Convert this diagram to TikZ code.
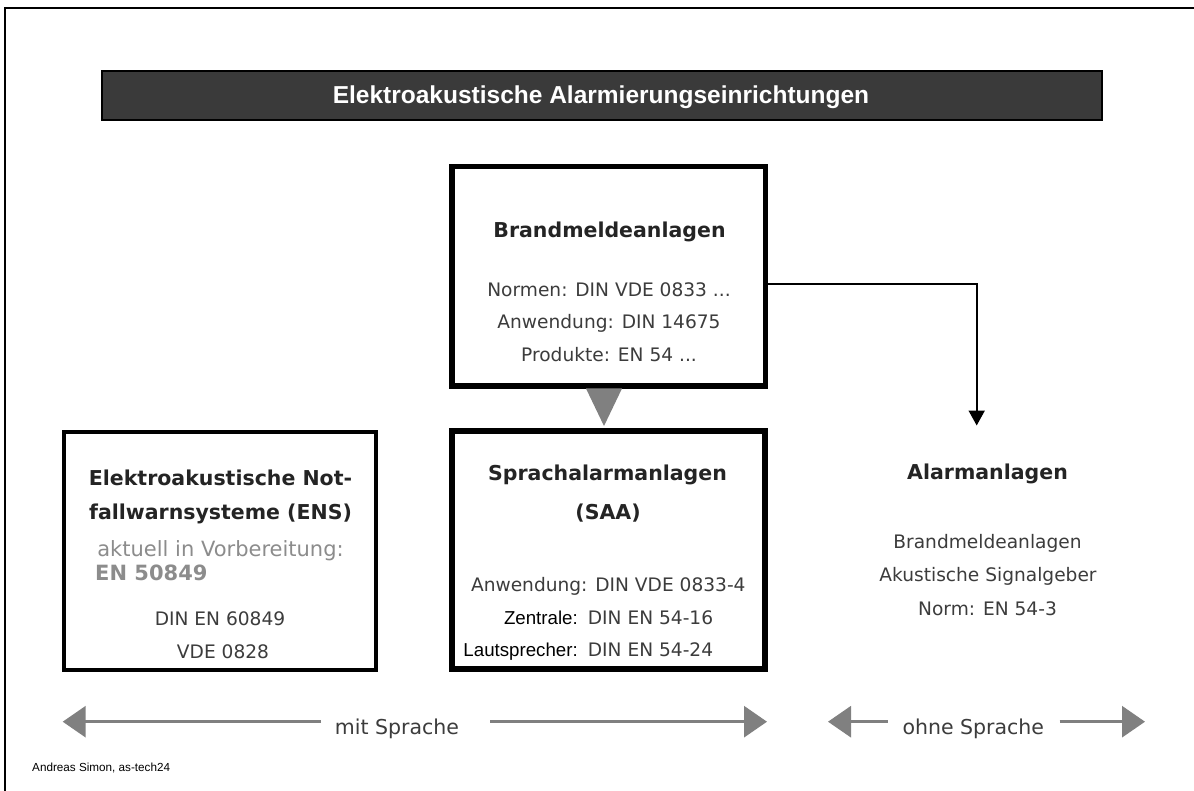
\documentclass[tikz,border=0pt]{standalone}
\usepackage{fontspec}
\setmainfont{DejaVu Sans}
\newfontfamily\arialf{Liberation Sans}
\usetikzlibrary{arrows.meta}
\definecolor{barc}{HTML}{3A3A3A}
\definecolor{titlec}{HTML}{242424}
\definecolor{txtc}{HTML}{3C3C3C}
\definecolor{greyc}{HTML}{8C8C8C}
\definecolor{arrc}{HTML}{808080}
\tikzset{
  bigbox/.style={draw=black, line width=5.5pt, fill=white, inner sep=0pt},
  thinbox/.style={draw=black, line width=4pt, fill=white, inner sep=0pt},
  ttl/.style={font=\fontsize{20.5}{24}\selectfont\bfseries, text=titlec, anchor=base, inner sep=0pt},
  txt/.style={font=\fontsize{18.6}{22}\selectfont, text=txtc, anchor=base, inner sep=0pt},
  atxt/.style={font=\arialf\fontsize{18.7}{22}\selectfont, text=black, inner sep=0pt},
  gtxt/.style={font=\fontsize{21}{25}\selectfont, text=greyc, inner sep=0pt},
  side/.style={font=\fontsize{20.5}{24}\selectfont, text=txtc, anchor=base, inner sep=0pt},
  grayarr/.style={draw=arrc, line width=3pt, -{Triangle[length=23pt,width=31pt]}},
  blackarr/.style={draw=black, line width=2pt, -{Triangle[length=15pt,width=16pt]}},
}
\begin{document}
\begin{tikzpicture}[x=1pt,y=-1pt]
\useasboundingbox (0,0) rectangle (1194,791);
\fill[white] (0,0) rectangle (1194,791);
% frame
\draw[line width=2.5pt] (5,791) -- (5,8) -- (1194,8);
% title bar
\node[draw=black, line width=2pt, fill=barc, minimum width=1000pt, minimum height=49pt, inner sep=0pt] (bar) at (601.8,95.5) {};
\node[font=\arialf\bfseries\fontsize{24.5}{28}\selectfont, text=white, anchor=base, inner sep=0pt] (bartxt) at (601,103.5) {Elektroakustische Alarmierungseinrichtungen};
% Brandmeldeanlagen
\node[bigbox, minimum width=313.5pt, minimum height=219.5pt] (bma) at (608.75,276.25) {};
\node[ttl] (bmat) at (609.5,237.3) {Brandmeldeanlagen};
\node[txt] (bma1) at (609,296.7) {Normen: DIN VDE 0833 ...};
\node[txt] (bma2) at (609,328.6) {Anwendung: DIN 14675};
\node[txt] (bma3) at (609,361.7) {Produkte: EN 54 ...};
% gray triangle
\fill[arrc] (586,388.5) -- (622,388.5) -- (604,426) -- cycle;
% SAA
\node[bigbox, minimum width=313pt, minimum height=238pt] (saa) at (608.5,550) {};
\node[ttl] (saat1) at (607.5,480) {Sprachalarmanlagen};
\node[ttl] (saat2) at (608,519) {(SAA)};
\node[txt] (saa1) at (608.3,591.7) {Anwendung: DIN VDE 0833-4};
\node[atxt, anchor=base east] (saa2l) at (578,624) {Zentrale:};
\node[txt, anchor=base west] (saa2r) at (587.7,624) {DIN EN 54-16};
\node[atxt, anchor=base east] (saa3l) at (578,656.7) {Lautsprecher:};
\node[txt, anchor=base west] (saa3r) at (587.7,656.7) {DIN EN 54-24};
% ENS
\node[thinbox, minimum width=311.5pt, minimum height=237.5pt] (ens) at (219.75,550.75) {};
\node[ttl] (enst1) at (220.5,485) {Elektroakustische Not-};
\node[ttl] (enst2) at (220.5,519.3) {fallwarnsysteme (ENS)};
\node[gtxt, anchor=base] (ens1) at (220.5,556) {aktuell in Vorbereitung:};
\node[gtxt, anchor=base west, font=\fontsize{21}{25}\selectfont\bfseries] (ens2) at (95,580.7) {EN 50849};
\node[txt] (ens3) at (220,625) {DIN EN 60849};
\node[txt] (ens4) at (223,658) {VDE 0828};
% Alarmanlagen
\node[ttl] (alt) at (987.5,479.3) {Alarmanlagen};
\node[txt] (al1) at (987.5,548.3) {Brandmeldeanlagen};
\node[txt] (al2) at (988,581.7) {Akustische Signalgeber};
\node[txt] (al3) at (987.5,615) {Norm: EN 54-3};
% connector
\coordinate (bend) at (976.7,284);
\coordinate (atip) at (976.7,425.5);
\draw[blackarr] (bma.east |- bend) -- (bend) -- (atip);
% bottom arrows
\node[side] (mit) at (397,734.3) {mit Sprache};
\node[side] (ohne) at (973.3,734.3) {ohne Sprache};
\coordinate (m1) at (321,721.7);
\coordinate (m0) at (62.7,721.7);
\coordinate (m2) at (490,721.7);
\coordinate (m3) at (767,721.7);
\coordinate (o1) at (887.5,721.7);
\coordinate (o0) at (828,721.7);
\coordinate (o2) at (1059.7,721.7);
\coordinate (o3) at (1145,721.7);
\draw[grayarr] (m1) -- (m0);
\draw[grayarr] (m2) -- (m3);
\draw[grayarr] (o1) -- (o0);
\draw[grayarr] (o2) -- (o3);
% footer
\node[font=\arialf\fontsize{11.7}{14}\selectfont, text=black, anchor=base west, inner sep=0pt] (foot) at (32,771) {Andreas Simon, as-tech24};
\end{tikzpicture}
\end{document}
